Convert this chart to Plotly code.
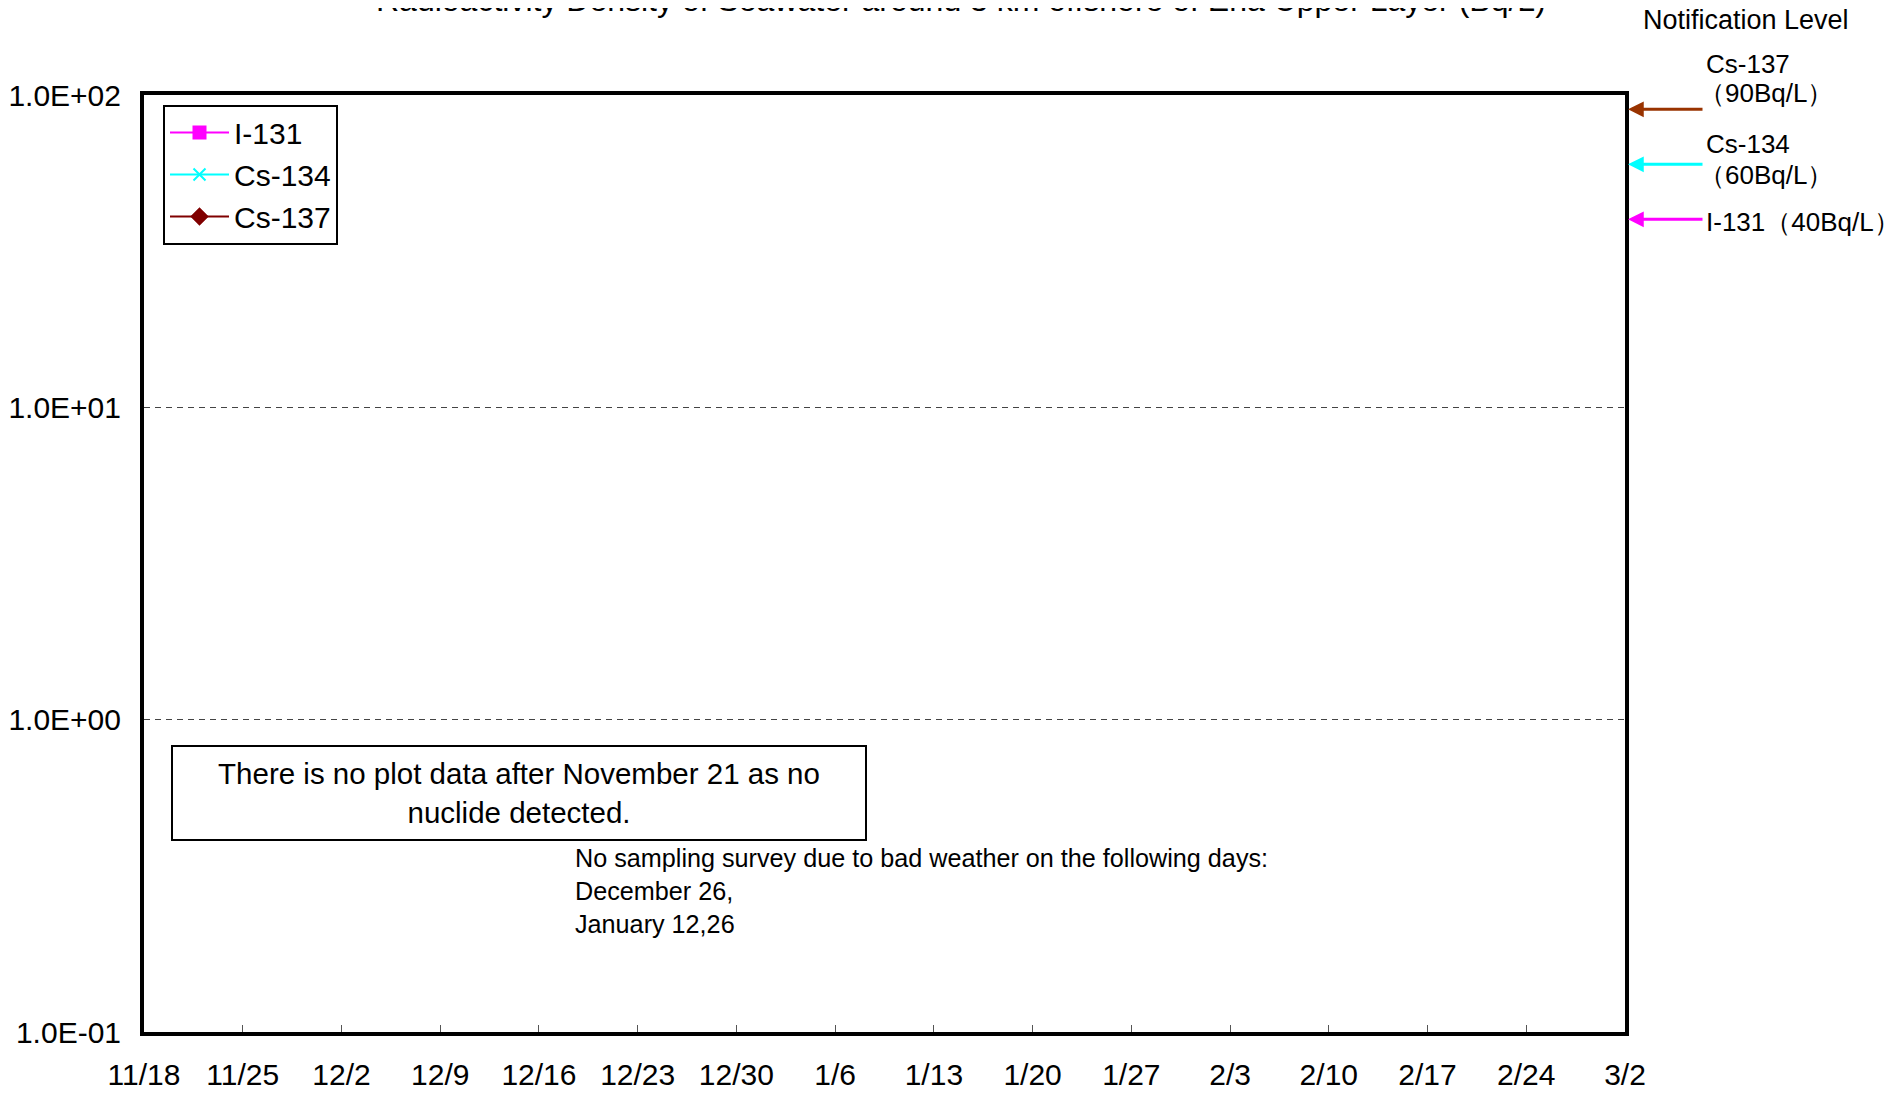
import math
import plotly.graph_objects as go

# ---- data ----
sample_dates = ["2011-11-21"]
i131_values = [None]
cs134_values = [None]
cs137_values = [None]

series_names = ["I-131", "Cs-134", "Cs-137"]
series_colors = ["#FF00FF", "#00FFFF", "#800000"]
series_symbols = ["square", "x-thin", "diamond"]

notify_values = [90, 60, 40]
notify_colors = ["#993300", "#00FFFF", "#FF00FF"]

y_tickvals = [0.1, 1, 10, 100]
y_ticktext = ["1.0E-01", "1.0E+00", "1.0E+01", "1.0E+02"]

x_start = "2011-11-18"
x_end = "2012-03-02"

title_text = "Radioactivity Density of Seawater around 3 km offshore of Ena Upper Layer (Bq/L)"

FONT = "Liberation Sans, Arial, sans-serif"

fig = go.Figure()
for name, vals, col, sym in zip(series_names, [i131_values, cs134_values, cs137_values],
                                series_colors, series_symbols):
    fig.add_trace(go.Scatter(
        x=sample_dates, y=vals, name=name, mode="lines+markers",
        line=dict(color=col, width=2),
        marker=dict(color=col, symbol=sym, size=12, line=dict(color=col, width=2)),
        legendgroup=name,
    ))

W, H = 1903, 1094
L, R, T, B = 136, 1617, 87, 1024


def px_x(p):
    return (p - L) / (R - L)


def px_y(p):
    return (B - p) / (B - T)


def txt(text, x, y, size, xanchor="left", align="left", **kw):
    return dict(text=text, x=px_x(x), y=px_y(y), xref="paper", yref="paper",
                showarrow=False, xanchor=xanchor, yanchor="middle", align=align,
                font=dict(size=size, color="black", family=FONT), **kw)


annotations = []
# title (cut off at top in the reference)
annotations.append(txt(title_text, 953, -8, 32, xanchor="center", align="center"))
# notification level labels
annotations.append(txt("Notification Level", 1738, 12, 27, xanchor="center", align="center"))
annotations.append(txt("Cs-137", 1696, 55.5, 26))
annotations.append(txt("（90Bq/L）", 1689, 85, 26))
annotations.append(txt("Cs-134", 1696, 136, 26))
annotations.append(txt("（60Bq/L）", 1689, 167, 26))
annotations.append(txt("I-131（40Bq/L）", 1696, 214, 26))
# arrows at notification levels
for v, c in zip(notify_values, notify_colors):
    annotations.append(dict(text="", x=px_x(R + 3), y=math.log10(v), xref="paper", yref="y",
                            showarrow=True, ax=76, ay=0, axref="pixel", ayref="pixel",
                            arrowhead=2, arrowsize=1.05, arrowwidth=3, arrowcolor=c))
# boxed note
annotations.append(txt("There is no plot data after November 21 as no<br>nuclide detected.",
                       510.6, 785, 29.5, xanchor="center", align="center",
                       width=692, height=92, borderpad=0, borderwidth=2,
                       bordercolor="black", bgcolor="white"))
annotations.append(txt("No sampling survey due to bad weather on the following days:<br>December 26,<br>January 12,26",
                       565, 883, 25.2))

fig.update_layout(
    width=W, height=H,
    margin=dict(l=L, r=W - R, t=T, b=H - B, pad=0, autoexpand=False),
    paper_bgcolor="white", plot_bgcolor="white",
    font=dict(family=FONT, color="black", size=30),
    showlegend=True,
    legend=dict(x=px_x(L + 19), y=px_y(T + 9.5), xanchor="left", yanchor="top",
                bgcolor="white", bordercolor="black", borderwidth=2,
                font=dict(size=30, family=FONT, color="black"),
                itemwidth=59, tracegroupgap=0, traceorder="grouped"),
    annotations=annotations,
)

fig.update_xaxes(
    type="date", range=[x_start, x_end], tick0=x_start, dtick=7 * 24 * 3600 * 1000,
    tickformat="%-m/%-d", ticks="inside", ticklen=7, tickwidth=1, tickcolor="#555",
    showgrid=False, showline=True, linewidth=4, linecolor="black", mirror=True,
    tickfont=dict(size=30, family=FONT, color="black"), ticklabelstandoff=13,
    zeroline=False, automargin=False,
)
fig.update_yaxes(
    type="log", range=[-1, 2], tickvals=y_tickvals, ticktext=y_ticktext,
    ticks="", showgrid=True, gridcolor="#444", gridwidth=1, griddash="6px,5px",
    showline=True, linewidth=4, linecolor="black", mirror=True,
    tickfont=dict(size=30, family=FONT, color="black"), ticklabelstandoff=13,
    zeroline=False, automargin=False,
)

fig.write_html("out.html")
